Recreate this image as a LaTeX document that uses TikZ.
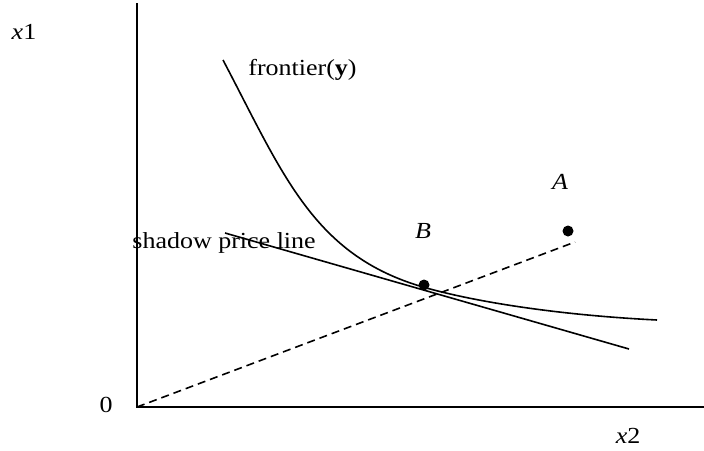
\documentclass[tikz,border=0pt]{standalone}
\usepackage{fontspec}
\setmainfont{Liberation Serif}
\usetikzlibrary{positioning}
\newcommand{\widetext}[1]{\scalebox{1.13}[1]{#1}}

\begin{document}
\begin{tikzpicture}[
  x=0.5pt, y=-0.5pt,
  every node/.style={font=\fontsize{11.5}{14}\selectfont, inner sep=0pt},
  axis/.style={line width=1pt},
  curve/.style={line width=0.8pt},
  ray/.style={line width=0.8pt, dash pattern=on 4pt off 2.5pt},
  dot/.style={circle, fill=black, minimum size=5.5pt, inner sep=0pt}
]
\useasboundingbox (0,0) rectangle (704,450);
% axes
\coordinate (O) at (137,407);
\coordinate (ytop) at (137,3);
\coordinate (xend) at (704,407);
\draw[axis] (ytop) -- (O) -- (xend);
\node (zero) at (106,405) {\widetext{0}};
\node (xone) at (24,32) {\widetext{\textit{x}1}};
\node (xtwo) at (628,436) {\widetext{\textit{x}2}};
% frontier
\coordinate (f1) at (223,60);
\coordinate (f2) at (423,287);
\coordinate (f3) at (657,320);
\draw[curve] (f1) .. controls (283,174) and (313,255) .. (f2)
  .. controls (473,301.5) and (557,315) .. (f3);
\node[anchor=west] (front) at (248,70) {\widetext{frontier(\textbf{y})}};
% shadow price line
\coordinate (s1) at (225,233);
\coordinate (s2) at (629,349);
\node[anchor=base west] (shadow) at (132,248) {\widetext{shadow price line}};
\draw[curve] (s1) -- (s2);
% points A and B
\coordinate (rayend) at (575,242);
\draw[ray] (O) -- (rayend);
\node[dot] (B) at (424,285) {};
\node[dot] (A) at (568,231) {};
\node (Blab) at (423,231) {\widetext{\textit{B}}};
\node (Alab) at (560,182) {\widetext{\textit{A}}};
\end{tikzpicture}
\end{document}
